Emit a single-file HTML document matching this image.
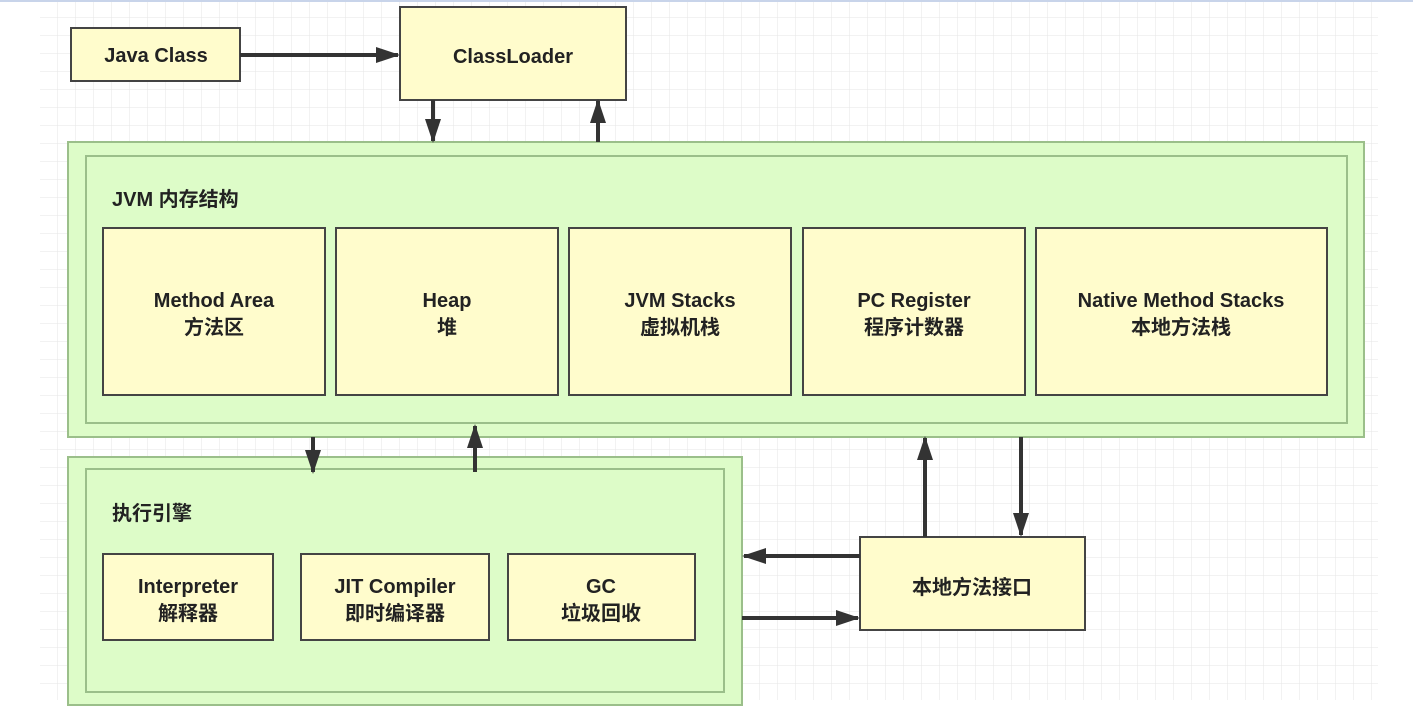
<!DOCTYPE html><html><head><meta charset="utf-8"><style>body{margin:0;background:#fff}svg{display:block}text{font-family:"Liberation Sans","Noto Sans CJK SC",sans-serif;font-weight:bold;fill:#222}</style></head><body>
<svg width="1413" height="718" viewBox="0 0 1413 718">
<defs><pattern id="g" width="18" height="18" patternUnits="userSpaceOnUse" x="40" y="0"><path d="M18 0V18M0 18H18" stroke="#e6e6e6" stroke-width="1" fill="none"/></pattern>
<marker id="a" markerWidth="10" markerHeight="10" refX="9" refY="5" orient="auto" markerUnits="userSpaceOnUse"><path d="M0,0 L10,5 L0,10 Z" fill="#333"/></marker>
<marker id="b" markerWidth="24" markerHeight="16" refX="22" refY="8" orient="auto" markerUnits="userSpaceOnUse"><path d="M0,0 L24,8 L0,16 Z" fill="#333"/></marker></defs>
<rect x="40" y="0" width="1338" height="700" fill="url(#g)"/>
<rect x="0" y="0" width="1413" height="2" fill="#c8d4ea"/>
<g stroke="#444" stroke-width="2" fill="#fffccc">
<rect x="71" y="28" width="169" height="53"/>
<rect x="400" y="7" width="226" height="93"/>
</g>
<g fill="#ddfcc8" stroke="#9bbf8a" stroke-width="2">
<rect x="68" y="142" width="1296" height="295"/>
<rect x="86" y="156" width="1261" height="267"/>
<rect x="68" y="457" width="674" height="248"/>
<rect x="86" y="469" width="638" height="223"/>
</g>
<g stroke="#444" stroke-width="2" fill="#fffccc">
<rect x="103" y="228" width="222" height="167"/>
<rect x="336" y="228" width="222" height="167"/>
<rect x="569" y="228" width="222" height="167"/>
<rect x="803" y="228" width="222" height="167"/>
<rect x="1036" y="228" width="291" height="167"/>
<rect x="103" y="554" width="170" height="86"/>
<rect x="301" y="554" width="188" height="86"/>
<rect x="508" y="554" width="187" height="86"/>
<rect x="860" y="537" width="225" height="93"/>
</g>
<g stroke="#333" stroke-width="4" fill="none" marker-end="url(#b)">
<line x1="240" y1="55" x2="398" y2="55"/>
<line x1="433" y1="100" x2="433" y2="141"/>
<line x1="598" y1="142" x2="598" y2="101"/>
<line x1="313" y1="437" x2="313" y2="472"/>
<line x1="475" y1="472" x2="475" y2="426"/>
<line x1="925" y1="537" x2="925" y2="438"/>
<line x1="1021" y1="437" x2="1021" y2="535"/>
<line x1="860" y1="556" x2="744" y2="556"/>
<line x1="742" y1="618" x2="858" y2="618"/>
</g>
<g font-size="20" text-anchor="middle">
<text x="156" y="62">Java Class</text>
<text x="513" y="63">ClassLoader</text>
<text x="214" y="307">Method Area</text><text x="214" y="334">方法区</text>
<text x="447" y="307">Heap</text><text x="447" y="334">堆</text>
<text x="680" y="307">JVM Stacks</text><text x="680" y="334">虚拟机栈</text>
<text x="914" y="307">PC Register</text><text x="914" y="334">程序计数器</text>
<text x="1181" y="307">Native Method Stacks</text><text x="1181" y="334">本地方法栈</text>
<text x="188" y="593">Interpreter</text><text x="188" y="620">解释器</text>
<text x="395" y="593">JIT Compiler</text><text x="395" y="620">即时编译器</text>
<text x="601" y="593">GC</text><text x="601" y="620">垃圾回收</text>
<text x="972" y="594">本地方法接口</text>
</g>
<g font-size="20"><text x="112" y="206">JVM 内存结构</text><text x="112" y="520">执行引擎</text></g>
</svg></body></html>
